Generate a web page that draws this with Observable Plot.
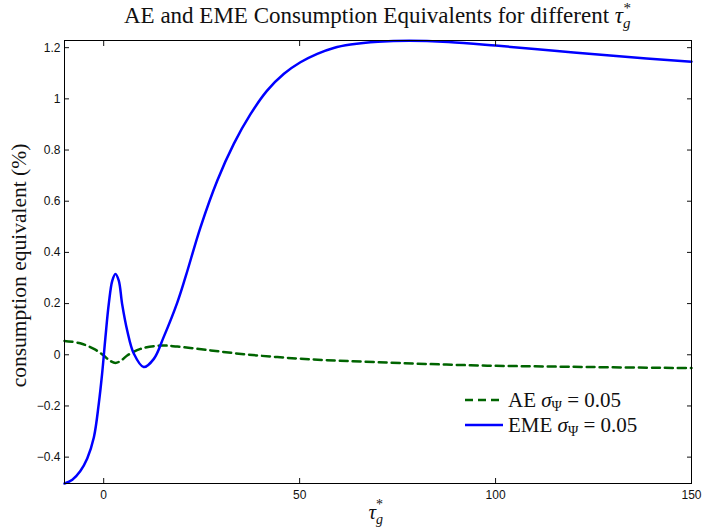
<!DOCTYPE html>
<html><head><meta charset="utf-8">
<script src="https://cdn.jsdelivr.net/npm/d3@7"></script>
<script src="https://cdn.jsdelivr.net/npm/@observablehq/plot@0.6"></script>
<style>body{margin:0;background:#fff}</style>
</head><body><div id="chart"></div>
<script>
// ---- data ----
const emeX = [-10,-8,-6,-4.2,-2.5,-1.25,-0.4,0.45,1.3,2.2,3,3.85,4.7,6,7.7,10.2,12.8,15.3,18.8,21,24.7,29,33.2,37.5,41.7,46,50.2,54.5,58.7,63,70,78,88,100,115,130,150];
const emeY = [-0.503,-0.488,-0.455,-0.405,-0.322,-0.191,-0.074,0.069,0.199,0.29,0.316,0.29,0.199,0.095,0.004,-0.048,-0.016,0.069,0.205,0.31,0.498,0.681,0.824,0.941,1.032,1.098,1.143,1.176,1.199,1.212,1.223,1.227,1.222,1.208,1.188,1.168,1.145];
const aeX = [-10,-6,-2.5,0,1.5,3,4.5,6,9.4,14.5,18.8,27.3,35.8,44.3,52.8,69.8,93.6,119,150];
const aeY = [0.054,0.045,0.023,-0.003,-0.022,-0.032,-0.022,-0.003,0.023,0.036,0.032,0.017,0.002,-0.009,-0.018,-0.029,-0.041,-0.047,-0.052];
const xTicks = [0,50,100,150];
const yTicks = [-0.4,-0.2,0,0.2,0.4,0.6,0.8,1,1.2];
const seriesNames = ["AE","EME"];
const sigmaVal = "0.05";
const xDomain = [-10,150];
const yDomain = [-0.503,1.228];

const W=704,H=527,mL=64,mR=13,mT=40,mB=44;
const eme = emeX.map((x,i)=>({x,y:emeY[i]}));
const ae = aeX.map((x,i)=>({x,y:aeY[i]}));
const fmt = d => (d<0?"\u2212":"") + String(Math.abs(d));
const noLabel = () => "";

const chart = Plot.plot({
  width:W, height:H, marginLeft:mL, marginRight:mR, marginTop:mT, marginBottom:mB,
  x:{domain:xDomain}, y:{domain:yDomain},
  style:{fontFamily:"'Liberation Sans', Arial, sans-serif", fontSize:"12px", color:"#111", background:"white"},
  marks:[
    Plot.line(ae,{x:"x",y:"y",stroke:"#006400",strokeWidth:2.5,strokeDasharray:"8,5",curve:"catmull-rom"}),
    Plot.line(eme,{x:"x",y:"y",stroke:"#0000ff",strokeWidth:2.5,curve:"catmull-rom"}),
    Plot.axisX({anchor:"bottom",ticks:xTicks,tickSize:-5,tickPadding:12,label:null,tickFormat:fmt}),
    Plot.axisX({anchor:"top",ticks:xTicks,tickSize:-5,label:null,tickFormat:noLabel}),
    Plot.axisY({anchor:"left",ticks:yTicks,tickSize:-5,tickPadding:9,label:null,tickFormat:fmt}),
    Plot.axisY({anchor:"right",ticks:yTicks,tickSize:-5,label:null,tickFormat:noLabel}),
    Plot.frame({stroke:"black",strokeWidth:1})
  ]
});
document.getElementById("chart").appendChild(chart);

// ---- text overlays ----
const svg = d3.select(chart);
const serif = "'Liberation Serif','DejaVu Serif',serif";
const cx = (mL + (W-mR))/2;

const title = svg.append("text").attr("x",cx).attr("y",23).attr("text-anchor","middle")
  .attr("font-family",serif).attr("font-size",23).attr("fill","#111");
title.append("tspan").text("AE and EME Consumption Equivalents for different ");
title.append("tspan").attr("font-style","italic").text("\u03C4");
title.append("tspan").attr("font-style","italic").attr("font-size",15).attr("dy",5).text("g");
title.append("tspan").attr("font-size",15).attr("dx",-7).attr("dy",-15).text("*");

svg.append("text").attr("transform",`translate(26,${(mT+H-mB)/2+4}) rotate(-90)`)
  .attr("text-anchor","middle").attr("font-family",serif).attr("font-size",21.5).attr("fill","#111")
  .text("consumption equivalent (%)");

const xl = svg.append("text").attr("x",cx-9).attr("y",519).attr("text-anchor","start")
  .attr("font-family",serif).attr("font-size",21).attr("fill","#111");
xl.append("tspan").attr("font-style","italic").text("\u03C4");
xl.append("tspan").attr("font-style","italic").attr("font-size",14).attr("dy",5).text("g");
xl.append("tspan").attr("font-size",14).attr("dx",-7).attr("dy",-15).text("*");

// legend
const leg = [{name:seriesNames[0],stroke:"#006400",dash:"8,5"},{name:seriesNames[1],stroke:"#0000ff",dash:null}];
leg.forEach((d,i)=>{
  const yy = 400 + i*25;
  svg.append("line").attr("x1",465).attr("x2",503).attr("y1",yy).attr("y2",yy)
    .attr("stroke",d.stroke).attr("stroke-width",2.5).attr("stroke-dasharray",d.dash);
  const t = svg.append("text").attr("x",508).attr("y",yy+7).attr("text-anchor","start")
    .attr("font-family",serif).attr("font-size",21).attr("fill","#111");
  t.append("tspan").text(d.name+" ");
  t.append("tspan").attr("font-style","italic").text("\u03C3");
  t.append("tspan").attr("font-size",14).attr("dy",4).text("\u03A8");
  t.append("tspan").attr("dy",-4).text(" = "+sigmaVal);
});
</script>
</body></html>
